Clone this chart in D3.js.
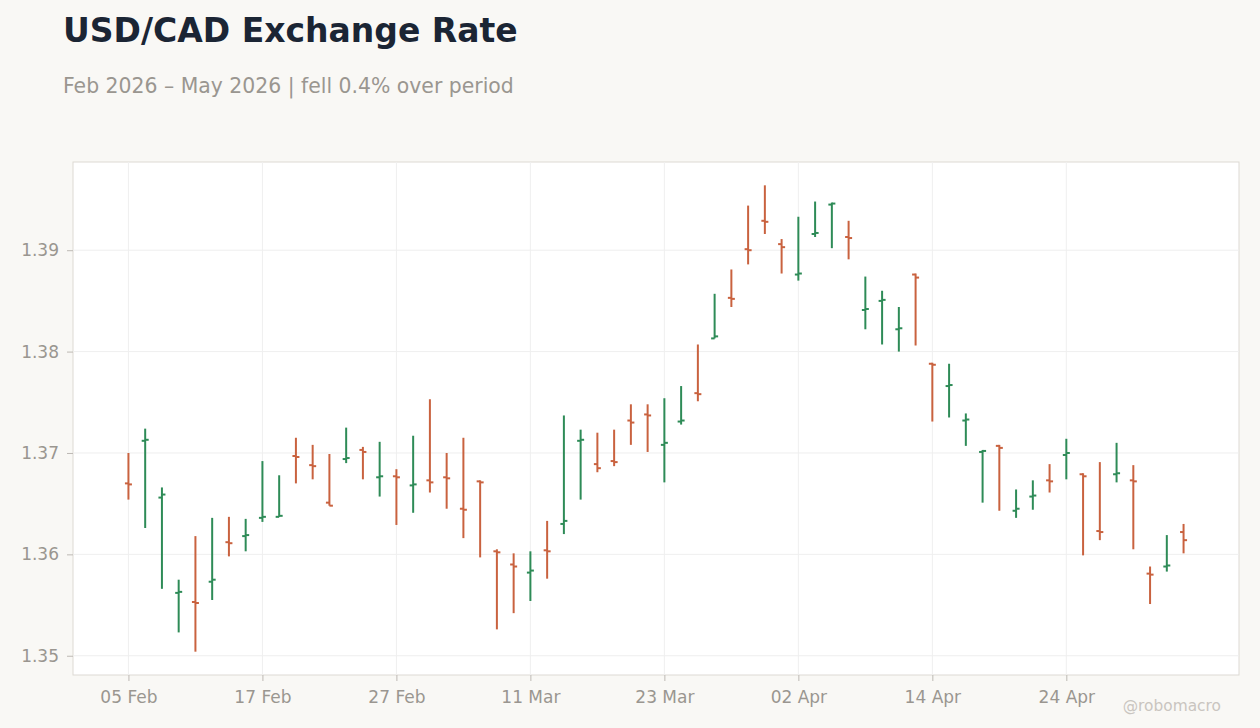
<!DOCTYPE html>
<html>
<head>
<meta charset="utf-8">
<script src="https://cdn.jsdelivr.net/npm/d3@7"></script>
<style>
  body { margin: 0; background: #f9f8f5; }
  svg { display: block; font-family: "DejaVu Sans", sans-serif; }
  .axis text { fill: #9a9690; font-size: 17px; font-family: "DejaVu Sans", sans-serif; }
  .axis line { stroke: #bdb9b4; }
  .axis path { display: none; }
</style>
</head>
<body>
<div id="chart"></div>
<script>
// trading days
var dates = [
  '2026-02-05', '2026-02-06', '2026-02-09', '2026-02-10', '2026-02-11', '2026-02-12', '2026-02-13', '2026-02-16',
  '2026-02-17', '2026-02-18', '2026-02-19', '2026-02-20', '2026-02-23', '2026-02-24', '2026-02-25', '2026-02-26',
  '2026-02-27', '2026-03-02', '2026-03-03', '2026-03-04', '2026-03-05', '2026-03-06', '2026-03-09', '2026-03-10',
  '2026-03-11', '2026-03-12', '2026-03-13', '2026-03-16', '2026-03-17', '2026-03-18', '2026-03-19', '2026-03-20',
  '2026-03-23', '2026-03-24', '2026-03-25', '2026-03-26', '2026-03-27', '2026-03-30', '2026-03-31', '2026-04-01',
  '2026-04-02', '2026-04-03', '2026-04-06', '2026-04-07', '2026-04-08', '2026-04-09', '2026-04-10', '2026-04-13',
  '2026-04-14', '2026-04-15', '2026-04-16', '2026-04-17', '2026-04-20', '2026-04-21', '2026-04-22', '2026-04-23',
  '2026-04-24', '2026-04-27', '2026-04-28', '2026-04-29', '2026-04-30', '2026-05-01', '2026-05-04', '2026-05-05'
];

var open = [
  1.3670, 1.3712, 1.3656, 1.3562, 1.3553, 1.3573, 1.3612, 1.3618,
  1.3636, 1.3637, 1.3697, 1.3688, 1.3651, 1.3694, 1.3703, 1.3676,
  1.3677, 1.3668, 1.3673, 1.3676, 1.3645, 1.3672, 1.3603, 1.3590,
  1.3582, 1.3604, 1.3630, 1.3712, 1.3689, 1.3692, 1.3732, 1.3738,
  1.3708, 1.3731, 1.3759, 1.3813, 1.3853, 1.3901, 1.3929, 1.3906,
  1.3876, 1.3916, 1.3945, 1.3913, 1.3841, 1.3850, 1.3822, 1.3876,
  1.3788, 1.3766, 1.3732, 1.3701, 1.3707, 1.3643, 1.3657, 1.3673,
  1.3698, 1.3679, 1.3623, 1.3679, 1.3673, 1.3581, 1.3588, 1.3622
];
var high = [
  1.3700, 1.3724, 1.3666, 1.3575, 1.3618, 1.3636, 1.3637, 1.3635,
  1.3692, 1.3678, 1.3715, 1.3708, 1.3699, 1.3725, 1.3706, 1.3711,
  1.3684, 1.3717, 1.3753, 1.3700, 1.3715, 1.3673, 1.3605, 1.3601,
  1.3603, 1.3633, 1.3737, 1.3723, 1.3720, 1.3723, 1.3748, 1.3748,
  1.3754, 1.3766, 1.3807, 1.3857, 1.3881, 1.3944, 1.3964, 1.3911,
  1.3933, 1.3948, 1.3947, 1.3929, 1.3874, 1.3860, 1.3844, 1.3877,
  1.3789, 1.3788, 1.3739, 1.3703, 1.3708, 1.3664, 1.3673, 1.3689,
  1.3714, 1.3680, 1.3691, 1.3710, 1.3688, 1.3588, 1.3619, 1.3630
];
var low = [
  1.3654, 1.3626, 1.3566, 1.3523, 1.3504, 1.3555, 1.3598, 1.3603,
  1.3632, 1.3637, 1.3670, 1.3674, 1.3648, 1.3690, 1.3674, 1.3657,
  1.3629, 1.3641, 1.3661, 1.3645, 1.3616, 1.3597, 1.3526, 1.3542,
  1.3554, 1.3576, 1.3620, 1.3654, 1.3681, 1.3687, 1.3708, 1.3701,
  1.3671, 1.3728, 1.3751, 1.3813, 1.3844, 1.3886, 1.3916, 1.3877,
  1.3870, 1.3913, 1.3902, 1.3891, 1.3822, 1.3807, 1.3800, 1.3806,
  1.3731, 1.3735, 1.3707, 1.3651, 1.3643, 1.3636, 1.3644, 1.3661,
  1.3674, 1.3599, 1.3614, 1.3671, 1.3605, 1.3551, 1.3583, 1.3601
];
var close = [
  1.3669, 1.3713, 1.3659, 1.3563, 1.3552, 1.3575, 1.3611, 1.3619,
  1.3637, 1.3638, 1.3696, 1.3687, 1.3648, 1.3695, 1.3701, 1.3677,
  1.3676, 1.3669, 1.3671, 1.3675, 1.3644, 1.3671, 1.3602, 1.3588,
  1.3584, 1.3603, 1.3633, 1.3713, 1.3685, 1.3691, 1.3730, 1.3737,
  1.3710, 1.3732, 1.3758, 1.3815, 1.3852, 1.3900, 1.3928, 1.3903,
  1.3877, 1.3917, 1.3946, 1.3912, 1.3842, 1.3851, 1.3823, 1.3873,
  1.3787, 1.3767, 1.3733, 1.3702, 1.3705, 1.3645, 1.3658, 1.3672,
  1.3700, 1.3677, 1.3622, 1.3680, 1.3672, 1.3580, 1.3589, 1.3614
];

var width = 1260;
var height = 728;
var margin = { top: 162, right: 21, bottom: 53, left: 73 };
var up_color = '#2e8b57';
var down_color = '#c9623f';

var parse = d3.timeParse('%Y-%m-%d');
var fmt = d3.timeFormat('%d %b');

var svg = d3.select('#chart')
  .append('svg')
  .attr('width', width)
  .attr('height', height);

// title + subtitle
svg.append('text')
  .attr('x', 63).attr('y', 42)
  .attr('font-size', 33).attr('font-weight', 'bold')
  .attr('fill', '#1b2534')
  .text('USD/CAD Exchange Rate');
svg.append('text')
  .attr('x', 63).attr('y', 93)
  .attr('font-size', 20.4)
  .attr('fill', '#9a9690')
  .text('Feb 2026 \u2013 May 2026 | fell 0.4% over period');

// scales
var x_scale = d3.scalePoint()
  .domain(d3.range(dates.length))
  .range([margin.left, width - margin.right])
  .padding(3.31);

var y_min = d3.min(low), y_max = d3.max(high);
var y_pad = (y_max - y_min) * 0.05;
var y_scale = d3.scaleLinear()
  .domain([y_min - y_pad, y_max + y_pad])
  .range([height - margin.bottom, margin.top]);

// plot background
svg.append('rect')
  .attr('x', margin.left).attr('y', margin.top)
  .attr('width', width - margin.left - margin.right)
  .attr('height', height - margin.top - margin.bottom)
  .attr('fill', '#ffffff')
  .attr('stroke', '#ddd9d4');

var x_ticks = d3.range(0, dates.length, 8);
var y_ticks = [1.35, 1.36, 1.37, 1.38, 1.39];

// grid
svg.append('g')
  .selectAll('line')
  .data(x_ticks)
  .enter()
  .append('line')
  .attr('x1', function(d) { return x_scale(d); })
  .attr('x2', function(d) { return x_scale(d); })
  .attr('y1', margin.top).attr('y2', height - margin.bottom)
  .attr('stroke', '#efefef');
svg.append('g')
  .selectAll('line')
  .data(y_ticks)
  .enter()
  .append('line')
  .attr('x1', margin.left).attr('x2', width - margin.right)
  .attr('y1', function(d) { return y_scale(d); })
  .attr('y2', function(d) { return y_scale(d); })
  .attr('stroke', '#efefef');

// axes
var x_axis = d3.axisBottom(x_scale)
  .tickValues(x_ticks)
  .tickSize(6)
  .tickPadding(10)
  .tickFormat(function(i) { return fmt(parse(dates[i])); });
svg.append('g')
  .attr('class', 'axis')
  .attr('transform', 'translate(0,' + (height - margin.bottom) + ')')
  .call(x_axis);

var y_axis = d3.axisLeft(y_scale)
  .tickValues(y_ticks)
  .tickSize(6)
  .tickPadding(8)
  .tickFormat(d3.format('.2f'));
svg.append('g')
  .attr('class', 'axis')
  .attr('transform', 'translate(' + margin.left + ',0)')
  .call(y_axis);

// ohlc bars
var bars = svg.append('g')
  .selectAll('g')
  .data(d3.range(dates.length))
  .enter()
  .append('g')
  .attr('stroke', function(i) { return close[i] >= open[i] ? up_color : down_color; })
  .attr('stroke-width', 2);

bars.append('line')
  .attr('x1', function(i) { return x_scale(i); })
  .attr('x2', function(i) { return x_scale(i); })
  .attr('y1', function(i) { return y_scale(high[i]); })
  .attr('y2', function(i) { return y_scale(low[i]); });
bars.append('line')
  .attr('x1', function(i) { return x_scale(i) - 3.5; })
  .attr('x2', function(i) { return x_scale(i); })
  .attr('y1', function(i) { return y_scale(open[i]); })
  .attr('y2', function(i) { return y_scale(open[i]); });
bars.append('line')
  .attr('x1', function(i) { return x_scale(i); })
  .attr('x2', function(i) { return x_scale(i) + 3.5; })
  .attr('y1', function(i) { return y_scale(close[i]); })
  .attr('y2', function(i) { return y_scale(close[i]); });

// watermark
svg.append('text')
  .attr('x', 1221).attr('y', 711)
  .attr('text-anchor', 'end')
  .attr('font-size', 15.4)
  .attr('fill', '#c9c5c0')
  .text('@robomacro');
</script>
</body>
</html>
